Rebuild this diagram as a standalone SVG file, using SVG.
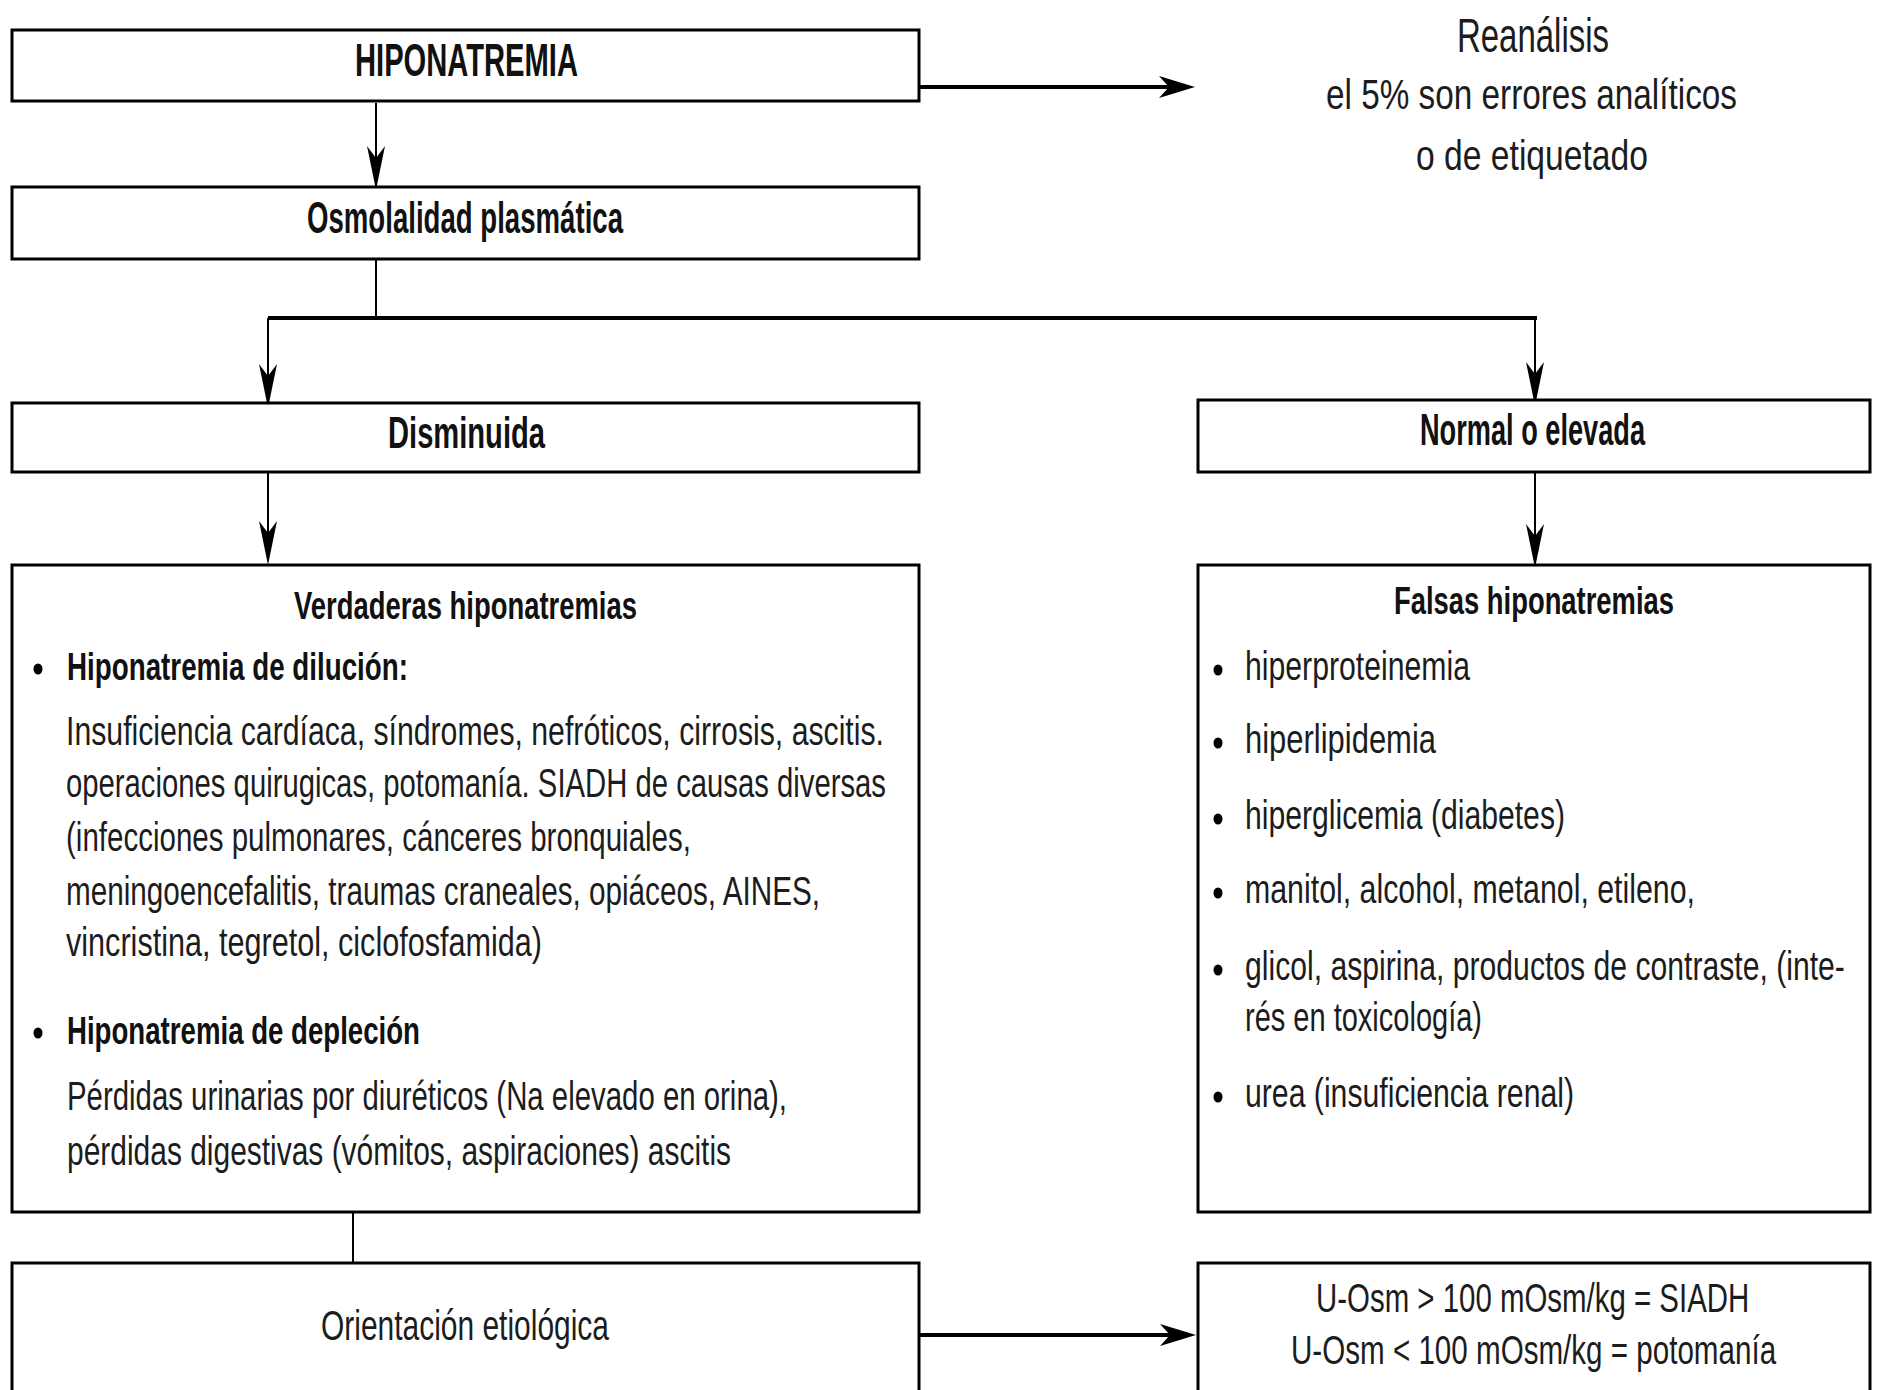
<svg xmlns="http://www.w3.org/2000/svg" width="1883" height="1390" viewBox="0 0 1883 1390">
  <style>
    .box { fill: #ffffff; stroke: #000000; stroke-width: 3; }
    .t { font-family: "Liberation Sans Narrow", "Liberation Sans", Arial, sans-serif; fill: #111111; }
    .hb { font-weight: bold; font-size: 44px; }
    .hs { font-weight: bold; font-size: 39px; }
    .body { font-size: 40px; fill: #1c1c1c; }
    .big { font-size: 42px; fill: #1c1c1c; }
    .v { stroke: #000000; stroke-width: 2; fill: none; }
    .h { stroke: #000000; stroke-width: 4; fill: none; }
    .dot { fill: #000000; }
  </style>
  <defs>
    <!-- long narrow notched head for the vertical links -->
    <marker id="arrowV" markerUnits="userSpaceOnUse" viewBox="0 0 46 22" markerWidth="46" markerHeight="22" refX="36" refY="11" orient="auto">
      <path d="M44,11 L0,2 L12,11 L0,20 Z" fill="#000000"/>
    </marker>
    <!-- shorter, wider notched head for the horizontal links -->
    <marker id="arrowH" markerUnits="userSpaceOnUse" viewBox="0 0 38 26" markerWidth="38" markerHeight="26" refX="28" refY="13" orient="auto">
      <path d="M36,13 L0,2 L10,13 L0,24 Z" fill="#000000"/>
    </marker>
  </defs>

  <rect x="0" y="0" width="1883" height="1390" fill="#ffffff"/>

  <!-- connectors -->
  <g id="connectors">
    <line class="h" x1="919" y1="87" x2="1187" y2="87" marker-end="url(#arrowH)"/>
    <line class="v" x1="376" y1="103" x2="376" y2="182" marker-end="url(#arrowV)"/>
    <polyline class="v" points="376,259 376,318"/>
    <line class="h" x1="268" y1="318" x2="1537" y2="318"/>
    <line class="v" x1="268" y1="318" x2="268" y2="400" marker-end="url(#arrowV)"/>
    <line class="v" x1="1535" y1="318" x2="1535" y2="398" marker-end="url(#arrowV)"/>
    <line class="v" x1="268" y1="472" x2="268" y2="557" marker-end="url(#arrowV)"/>
    <line class="v" x1="1535" y1="472" x2="1535" y2="560" marker-end="url(#arrowV)"/>
    <line class="v" x1="353" y1="1212" x2="353" y2="1263"/>
    <line class="h" x1="919" y1="1335" x2="1188" y2="1335" marker-end="url(#arrowH)"/>
  </g>

  <!-- start node -->
  <g id="n-hiponatremia">
    <rect class="box" x="12" y="30" width="907" height="71"/>
    <text class="t hb" x="355" y="76" style="font-size:46px" textLength="223" lengthAdjust="spacingAndGlyphs">HIPONATREMIA</text>
  </g>

  <!-- side note -->
  <g id="n-reanalisis">
    <text class="t big" x="1457" y="52" style="font-size:49px" textLength="152" lengthAdjust="spacingAndGlyphs">Reanálisis</text>
    <text class="t body" x="1326" y="109" style="font-size:42px" textLength="411" lengthAdjust="spacingAndGlyphs">el 5% son errores analíticos</text>
    <text class="t body" x="1416" y="170" style="font-size:42px" textLength="232" lengthAdjust="spacingAndGlyphs">o de etiquetado</text>
  </g>

  <g id="n-osmolalidad">
    <rect class="box" x="12" y="187" width="907" height="72"/>
    <text class="t hb" x="307" y="233" textLength="316" lengthAdjust="spacingAndGlyphs">Osmolalidad plasmática</text>
  </g>

  <g id="n-disminuida">
    <rect class="box" x="12" y="403" width="907" height="69"/>
    <text class="t hb" x="388" y="448" textLength="157" lengthAdjust="spacingAndGlyphs">Disminuida</text>
  </g>

  <g id="n-normal">
    <rect class="box" x="1198" y="400" width="672" height="72"/>
    <text class="t hb" x="1420" y="445" textLength="225" lengthAdjust="spacingAndGlyphs">Normal o elevada</text>
  </g>

  <!-- true hyponatremia -->
  <g id="n-verdaderas">
    <rect class="box" x="12" y="565" width="907" height="647"/>
    <text class="t hs" x="294" y="619" textLength="343" lengthAdjust="spacingAndGlyphs">Verdaderas hiponatremias</text>
    <ellipse class="dot" cx="38" cy="669" rx="4.5" ry="5.5"/>
    <text class="t hs" x="67" y="680" textLength="341" lengthAdjust="spacingAndGlyphs">Hiponatremia de dilución:</text>
    <text class="t body" x="66" y="745" textLength="818" lengthAdjust="spacingAndGlyphs">Insuficiencia cardíaca, síndromes, nefróticos, cirrosis, ascitis.</text>
    <text class="t body" x="66" y="797" textLength="820" lengthAdjust="spacingAndGlyphs">operaciones quirugicas, potomanía. SIADH de causas diversas</text>
    <text class="t body" x="66" y="851" textLength="625" lengthAdjust="spacingAndGlyphs">(infecciones pulmonares, cánceres bronquiales,</text>
    <text class="t body" x="66" y="905" textLength="754" lengthAdjust="spacingAndGlyphs">meningoencefalitis, traumas craneales, opiáceos, AINES,</text>
    <text class="t body" x="66" y="956" textLength="476" lengthAdjust="spacingAndGlyphs">vincristina, tegretol, ciclofosfamida)</text>
    <ellipse class="dot" cx="38" cy="1033" rx="4.5" ry="5.5"/>
    <text class="t hs" x="67" y="1044" textLength="353" lengthAdjust="spacingAndGlyphs">Hiponatremia de depleción</text>
    <text class="t body" x="67" y="1110" textLength="720" lengthAdjust="spacingAndGlyphs">Pérdidas urinarias por diuréticos (Na elevado en orina),</text>
    <text class="t body" x="67" y="1165" textLength="664" lengthAdjust="spacingAndGlyphs">pérdidas digestivas (vómitos, aspiraciones)  ascitis</text>
  </g>

  <!-- false hyponatremia -->
  <g id="n-falsas">
    <rect class="box" x="1198" y="565" width="672" height="647"/>
    <text class="t hs" x="1394" y="614" textLength="280" lengthAdjust="spacingAndGlyphs">Falsas hiponatremias</text>
    <ellipse class="dot" cx="1218" cy="670" rx="4.5" ry="5.5"/>
    <text class="t body" x="1245" y="680" textLength="225" lengthAdjust="spacingAndGlyphs">hiperproteinemia</text>
    <ellipse class="dot" cx="1218" cy="743" rx="4.5" ry="5.5"/>
    <text class="t body" x="1245" y="753" textLength="191" lengthAdjust="spacingAndGlyphs">hiperlipidemia</text>
    <ellipse class="dot" cx="1218" cy="819" rx="4.5" ry="5.5"/>
    <text class="t body" x="1245" y="829" textLength="320" lengthAdjust="spacingAndGlyphs">hiperglicemia (diabetes)</text>
    <ellipse class="dot" cx="1218" cy="893" rx="4.5" ry="5.5"/>
    <text class="t body" x="1245" y="903" textLength="450" lengthAdjust="spacingAndGlyphs">manitol, alcohol, metanol, etileno,</text>
    <ellipse class="dot" cx="1218" cy="970" rx="4.5" ry="5.5"/>
    <g transform="translate(1245,980) scale(0.7,1)">
      <text class="t body" x="0" y="0" textLength="857" lengthAdjust="spacingAndGlyphs">glicol, aspirina, productos de contraste, (inte-</text>
    </g>
    <text class="t body" x="1245" y="1031" textLength="237" lengthAdjust="spacingAndGlyphs">rés en toxicología)</text>
    <ellipse class="dot" cx="1218" cy="1097" rx="4.5" ry="5.5"/>
    <text class="t body" x="1245" y="1107" textLength="329" lengthAdjust="spacingAndGlyphs">urea (insuficiencia renal)</text>
  </g>

  <g id="n-orientacion">
    <rect class="box" x="12" y="1263" width="907" height="160"/>
    <text class="t big" x="321" y="1340" textLength="288" lengthAdjust="spacingAndGlyphs">Orientación etiológica</text>
  </g>

  <g id="n-uosm">
    <rect class="box" x="1198" y="1263" width="672" height="160"/>
    <g transform="translate(1316,1312) scale(0.7,1)">
      <text class="t body" x="0" y="0" textLength="619" lengthAdjust="spacingAndGlyphs">U-Osm &gt; 100 mOsm/kg = SIADH</text>
    </g>
    <g transform="translate(1291,1364) scale(0.7,1)">
      <text class="t body" x="0" y="0" textLength="693" lengthAdjust="spacingAndGlyphs">U-Osm &lt; 100 mOsm/kg = potomanía</text>
    </g>
  </g>
</svg>
